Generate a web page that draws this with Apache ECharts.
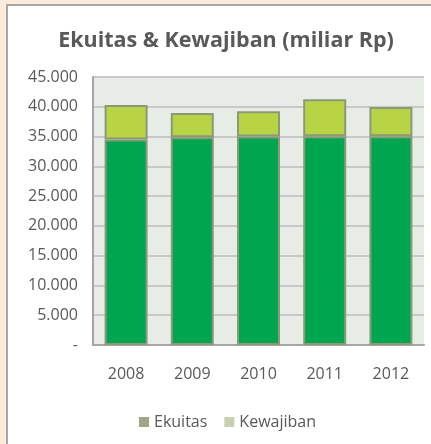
<!DOCTYPE html>
<html>
<head>
<meta charset="utf-8">
<script src="https://cdn.jsdelivr.net/npm/echarts@6/dist/echarts.min.js"></script>
<style>
html,body{margin:0;padding:0;background:#fdebdd;}
#c{width:431px;height:444px;}
</style>
</head>
<body>
<div id="c"></div>
<script>
var categories = ['2008', '2009', '2010', '2011', '2012'];
var ekuitas = [34500, 34900, 35000, 35050, 35050];
var kewajiban = [5800, 4050, 4250, 6200, 4900];
var yTicks = [0, 5000, 10000, 15000, 20000, 25000, 30000, 35000, 40000, 45000];

function fmt(v) {
  if (v === 0) return '-';
  var s = String(Math.round(v));
  return s.replace(/\B(?=(\d{3})+(?!\d))/g, '.');
}

var chart = echarts.init(document.getElementById('c'));
var font = '"Open Sans", sans-serif';
chart.setOption({
  backgroundColor: '#fdebdd',
  animation: false,
  graphic: [{
    type: 'rect', z: -10,
    shape: {x: 7, y: 5, width: 440, height: 460},
    style: {fill: '#ffffff', stroke: '#a6a6a6', lineWidth: 2}
  }],
  title: {
    text: 'Ekuitas & Kewajiban (miliar Rp)',
    left: 221, top: 25, textAlign: 'center',
    textStyle: {fontFamily: font, fontWeight: 'bold', fontSize: 21.5, color: '#595959'}
  },
  grid: {left: 93, right: 7, top: 77, bottom: 99, show: true, backgroundColor: '#e8ece6', borderWidth: 0},
  legend: {
    data: [
      {name: 'Ekuitas', itemStyle: {color: '#9ea882', borderWidth: 0}},
      {name: 'Kewajiban', itemStyle: {color: '#c8d0b2', borderWidth: 0}}
    ],
    left: 134, top: 409, icon: 'rect', itemWidth: 10, itemHeight: 10, itemGap: 17, itemStyle: {borderWidth: 0},
    textStyle: {fontFamily: font, fontSize: 16, color: '#595959'}
  },
  xAxis: {
    type: 'category', data: categories,
    axisLine: {lineStyle: {color: '#a6a6a6', width: 2}},
    axisTick: {show: false},
    axisLabel: {fontFamily: font, fontSize: 16, color: '#595959', margin: 21}
  },
  yAxis: {
    type: 'value', min: 0, max: 45000, interval: 5000,
    axisLine: {show: true, lineStyle: {color: '#a6a6a6', width: 2}},
    axisTick: {show: false},
    splitLine: {lineStyle: {color: '#c8c8c8', width: 2}},
    axisLabel: {fontFamily: font, fontSize: 16, color: '#595959', margin: 15,
      formatter: function (v) { return fmt(v); }}
  },
  series: [
    {name: 'Ekuitas', type: 'bar', stack: 'a', data: ekuitas, barWidth: 43,
     itemStyle: {color: '#00a550', borderColor: '#8a9a78', borderWidth: 2}},
    {name: 'Kewajiban', type: 'bar', stack: 'a', data: kewajiban, barWidth: 43,
     itemStyle: {color: '#b8d444', borderColor: '#8a9a78', borderWidth: 2}}
  ]
});
</script>
</body>
</html>
